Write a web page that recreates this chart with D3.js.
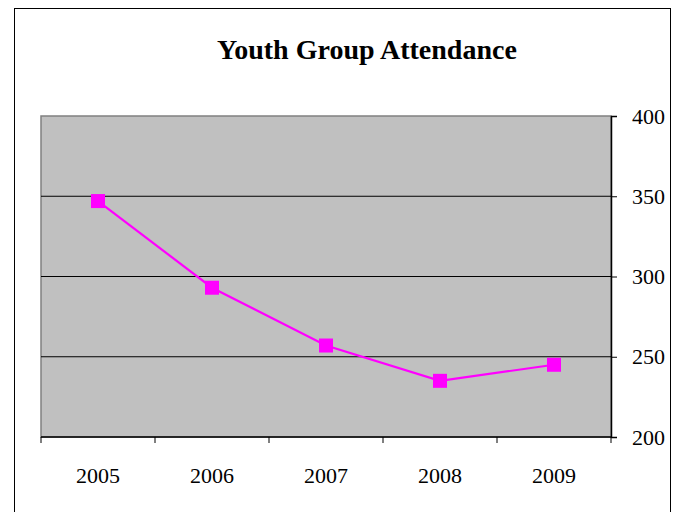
<!DOCTYPE html>
<meta charset="utf-8">
<style>
body { margin: 0; background: #fff; }
text { font-family: "Liberation Serif", "Times New Roman", serif; fill: #000; }
</style>
<svg width="673" height="512"></svg>
<script src="https://cdn.jsdelivr.net/npm/d3@7"></script>
<script>

var years = ["2005", "2006", "2007", "2008", "2009"];
var attendance = [347, 293, 257, 235, 245];
var yTicks = [200, 250, 300, 350, 400];

var svg = d3.select("svg");

var margin = {left: 41, right: 611, top: 116, bottom: 437};

// outer chart frame
svg.append("rect")
    .attr("x", 14.5).attr("y", 8.5)
    .attr("width", 656).attr("height", 520)
    .attr("fill", "none")
    .attr("stroke", "#000")
    .attr("stroke-width", 1);

svg.append("text")
    .attr("x", 367).attr("y", 59)
    .attr("text-anchor", "middle")
    .style("font-size", "28px")
    .style("font-weight", "bold")
    .text("Youth Group Attendance");

var x = d3.scaleBand().domain(years).range([margin.left, margin.right]);
var y = d3.scaleLinear().domain([200, 400]).range([margin.bottom, margin.top]);

svg.append("rect")
    .attr("x", margin.left).attr("y", margin.top)
    .attr("width", margin.right - margin.left)
    .attr("height", margin.bottom - margin.top)
    .attr("fill", "#c0c0c0")
    .attr("stroke", "#808080")
    .attr("stroke-width", 1.5);

// gridlines
svg.append("g").selectAll("line")
    .data([250, 300, 350])
    .enter().append("line")
      .attr("x1", margin.left).attr("x2", margin.right)
      .attr("y1", function(d) { return y(d); })
      .attr("y2", function(d) { return y(d); })
      .attr("stroke", "#000")
      .attr("stroke-width", 1);

// right axis
var yAxis = svg.append("g")
    .attr("transform", "translate(" + margin.right + ",0)")
    .call(d3.axisRight(y).tickValues(yTicks).tickSize(6).tickPadding(16));
yAxis.select(".domain").attr("stroke", "#000").attr("stroke-width", 1.5);
yAxis.selectAll("text").style("font-size", "22px").attr("text-anchor", "start").attr("x", 21);

// bottom axis with ticks at category boundaries
var xAxis = svg.append("g")
    .attr("transform", "translate(0," + margin.bottom + ")");
xAxis.append("line")
    .attr("x1", margin.left).attr("x2", margin.right)
    .attr("stroke", "#000").attr("stroke-width", 1.5);
var bounds = years.map(function(d) { return x(d); }).concat([x(years[4]) + x.bandwidth()]);
xAxis.selectAll(".tk")
    .data(bounds)
    .enter().append("line")
      .attr("x1", function(d) { return d; }).attr("x2", function(d) { return d; })
      .attr("y1", 0).attr("y2", 6)
      .attr("stroke", "#000");
xAxis.selectAll(".lbl")
    .data(years)
    .enter().append("text")
      .attr("x", function(d) { return x(d) + x.bandwidth() / 2; })
      .attr("y", 46)
      .attr("text-anchor", "middle")
      .style("font-size", "22px")
      .text(function(d) { return d; });

var pts = years.map(function(d, i) { return [x(d) + x.bandwidth() / 2, y(attendance[i])]; });

svg.append("path")
    .datum(pts)
    .attr("d", d3.line())
    .attr("fill", "none")
    .attr("stroke", "#ff00ff")
    .attr("stroke-width", 2.2);

svg.append("g").selectAll("rect")
    .data(pts)
    .enter().append("rect")
      .attr("x", function(d) { return d[0] - 7; })
      .attr("y", function(d) { return d[1] - 7; })
      .attr("width", 14).attr("height", 14)
      .attr("fill", "#ff00ff");

</script>
